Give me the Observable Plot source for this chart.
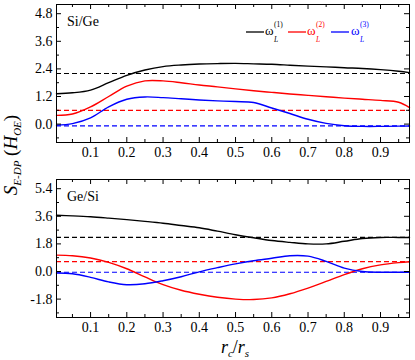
<!DOCTYPE html>
<html><head><meta charset="utf-8">
<script src="https://cdn.jsdelivr.net/npm/d3@7"></script>
<script src="https://cdn.jsdelivr.net/npm/@observablehq/plot@0.6"></script>
<style>
body{margin:0;background:#fff;}
#wrap{position:relative;width:415px;height:360px;font-family:"Liberation Serif",serif;}
.panel{position:absolute;left:0;}
#overlay{position:absolute;left:0;top:0;pointer-events:none;}
</style></head><body>
<div id="wrap">
  <div class="panel" id="p1" style="top:0px"></div>
  <div class="panel" id="p2" style="top:175px"></div>
  <svg id="overlay" width="415" height="360" font-family="Liberation Serif, serif">
    <!-- panel labels -->
    <text x="67" y="26" font-size="14">Si/Ge</text>
    <text x="67" y="201" font-size="14">Ge/Si</text>
    <!-- legend -->
    <line x1="246" x2="264" y1="32" y2="32" stroke="#000" stroke-width="1.3"/>
    <text x="265" y="35" font-size="13" fill="#000">ω</text>
    <text x="274" y="42" font-size="7.5" font-style="italic" fill="#000">L</text>
    <text x="274" y="27" font-size="7.5" fill="#000">(1)</text>
    <line x1="288" x2="306" y1="32" y2="32" stroke="#ff0000" stroke-width="1.3"/>
    <text x="307" y="35" font-size="13" fill="#ff0000">ω</text>
    <text x="316" y="42" font-size="7.5" font-style="italic" fill="#ff0000">L</text>
    <text x="316" y="27" font-size="7.5" fill="#ff0000">(2)</text>
    <line x1="331" x2="349" y1="32" y2="32" stroke="#0000ff" stroke-width="1.3"/>
    <text x="351" y="35" font-size="13" fill="#0000ff">ω</text>
    <text x="360" y="42" font-size="7.5" font-style="italic" fill="#0000ff">L</text>
    <text x="360" y="27" font-size="7.5" fill="#0000ff">(3)</text>
    <!-- y title -->
    <text transform="translate(17,155) rotate(-90)" text-anchor="middle" font-size="19" font-style="italic"><tspan>S</tspan><tspan font-size="11" dy="4">E-DP</tspan><tspan dy="-4" font-style="normal"> (</tspan><tspan>H</tspan><tspan font-size="11" dy="4">OE</tspan><tspan dy="-4" font-style="normal">)</tspan></text>
    <!-- x title -->
    <text x="235" y="353" text-anchor="middle" font-size="18" font-style="italic"><tspan>r</tspan><tspan font-size="11" dy="4">c</tspan><tspan dy="-4" font-style="normal">/</tspan><tspan>r</tspan><tspan font-size="11" dy="4">s</tspan></text>
  </svg>
</div>
<script>
// data
const rc = [0.006, 0.05, 0.1, 0.15, 0.2, 0.25, 0.3, 0.35, 0.4, 0.45, 0.5, 0.55, 0.6, 0.65, 0.7, 0.75, 0.8, 0.85, 0.9, 0.95, 0.98];
const seriesNames = ["ω1", "ω2", "ω3"];
const seriesColors = ["#000000", "#ff0000", "#0000ff"];

const siGe1 = [1.32, 1.36, 1.48, 1.80, 2.12, 2.35, 2.50, 2.57, 2.61, 2.63, 2.64, 2.62, 2.60, 2.56, 2.52, 2.49, 2.45, 2.42, 2.37, 2.30, 2.24];
const siGe2 = [0.38, 0.44, 0.75, 1.20, 1.65, 1.88, 1.88, 1.80, 1.70, 1.62, 1.53, 1.45, 1.38, 1.31, 1.25, 1.19, 1.13, 1.08, 1.03, 0.95, 0.72];
const siGe3 = [-0.05, 0.02, 0.27, 0.75, 1.08, 1.18, 1.15, 1.10, 1.05, 1.01, 0.98, 0.94, 0.70, 0.46, 0.21, 0.03, -0.07, -0.10, -0.10, -0.09, -0.08];
const siGeRef = [2.20, 0.60, -0.08];

const geSi1 = [3.67, 3.63, 3.57, 3.48, 3.38, 3.27, 3.15, 3.00, 2.85, 2.63, 2.40, 2.20, 2.02, 1.90, 1.80, 1.80, 1.97, 2.15, 2.22, 2.22, 2.22];
const geSi2 = [1.07, 1.03, 0.88, 0.60, 0.18, -0.35, -0.85, -1.22, -1.48, -1.68, -1.80, -1.83, -1.72, -1.45, -1.08, -0.65, -0.20, 0.18, 0.43, 0.58, 0.64];
const geSi3 = [-0.10, -0.15, -0.38, -0.68, -0.86, -0.80, -0.60, -0.34, -0.02, 0.25, 0.50, 0.70, 0.86, 1.03, 1.00, 0.66, 0.22, 0.00, -0.05, -0.05, -0.05];
const geSiRef = [2.22, 0.64, -0.05];

const xMajor = [0.1, 0.2, 0.3, 0.4, 0.5, 0.6, 0.7, 0.8, 0.9];
const xMinor = [0.05, 0.15, 0.25, 0.35, 0.45, 0.55, 0.65, 0.75, 0.85, 0.95];
const yMajorTop = [0.0, 1.2, 2.4, 3.6, 4.8];
const yMinorTop = [-0.6, 0.6, 1.8, 3.0, 4.2];
const yMajorBot = [-1.8, 0.0, 1.8, 3.6, 5.4];
const yMinorBot = [-2.7, -0.9, 0.9, 2.7, 4.5];

function toRows(cols) {
  const rows = [];
  cols.forEach((vals, i) => vals.forEach((v, j) => rows.push({x: rc[j], y: v, s: seriesNames[i]})));
  return rows;
}

function panel({cols, ref, yDomain, yMajor, yMinor, height, marginTop, marginBottom}) {
  const W = 415, mL = 56, mR = 6;
  const innerW = W - mL - mR, innerH = height - marginTop - marginBottom;
  const rows = toRows(cols);
  const refRows = ref.map((v, i) => ({y: v, s: seriesNames[i]}));
  const fmt = d => d.toFixed(1);
  return Plot.plot({
    width: W, height, marginLeft: mL, marginRight: mR, marginTop, marginBottom,
    style: {fontFamily: "Liberation Serif, serif", fontSize: "14px", background: "white", color: "black", overflow: "visible"},
    x: {domain: [0.006, 0.98]},
    y: {domain: yDomain},
    color: {domain: seriesNames, range: seriesColors},
    marks: [
      Plot.ruleY(refRows, {y: "y", stroke: "s", strokeWidth: 1.2, strokeDasharray: "5,3"}),
      Plot.line(rows, {x: "x", y: "y", z: "s", stroke: "s", strokeWidth: 1.4, curve: "catmull-rom"}),
      Plot.frame({stroke: "black", strokeWidth: 1}),
      // inward ticks, bottom and top
      Plot.tickX(xMajor, {x: d => d, stroke: "black", insetTop: innerH - 5}),
      Plot.tickX(xMinor, {x: d => d, stroke: "black", insetTop: innerH - 3}),
      Plot.tickX(xMajor, {x: d => d, stroke: "black", insetBottom: innerH - 5}),
      Plot.tickX(xMinor, {x: d => d, stroke: "black", insetBottom: innerH - 3}),
      // inward ticks, left and right
      Plot.tickY(yMajor, {y: d => d, stroke: "black", insetRight: innerW - 5}),
      Plot.tickY(yMinor, {y: d => d, stroke: "black", insetRight: innerW - 3}),
      Plot.tickY(yMajor, {y: d => d, stroke: "black", insetLeft: innerW - 5}),
      Plot.tickY(yMinor, {y: d => d, stroke: "black", insetLeft: innerW - 3}),
      Plot.axisX(xMajor, {tickSize: 0, tickPadding: 5, tickFormat: fmt, label: null, fontSize: 14}),
      Plot.axisY(yMajor, {tickSize: 0, tickPadding: 4, tickFormat: fmt, label: null, fontSize: 14})
    ]
  });
}

document.getElementById("p1").appendChild(panel({
  cols: [siGe1, siGe2, siGe3], ref: siGeRef, yDomain: [-0.8, 5.2],
  yMajor: yMajorTop, yMinor: yMinorTop, height: 175, marginTop: 4, marginBottom: 33
}));
document.getElementById("p2").appendChild(panel({
  cols: [geSi1, geSi2, geSi3], ref: geSiRef, yDomain: [-3.0, 6.0],
  yMajor: yMajorBot, yMinor: yMinorBot, height: 185, marginTop: 4, marginBottom: 43
}));
</script>
</body></html>
